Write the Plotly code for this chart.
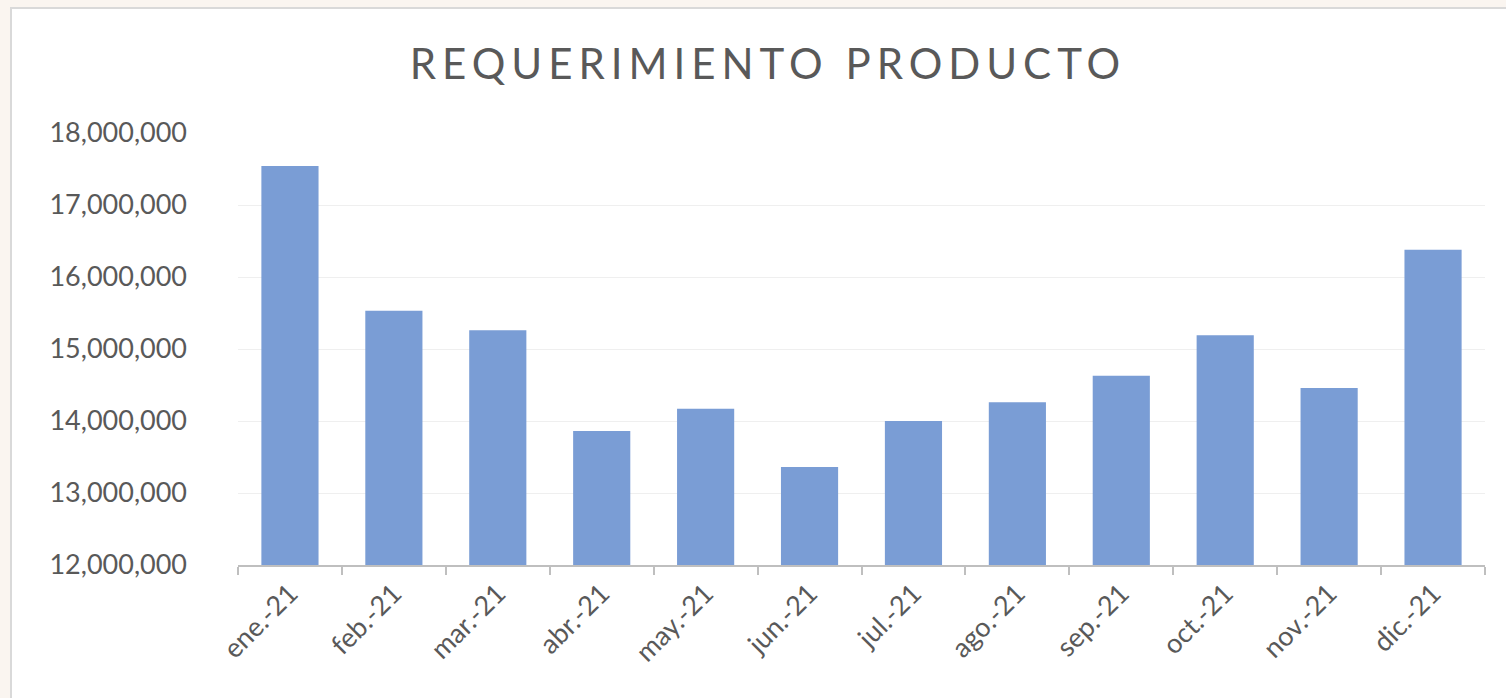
import plotly.graph_objects as go

months = ["ene.-21", "feb.-21", "mar.-21", "abr.-21", "may.-21", "jun.-21",
          "jul.-21", "ago.-21", "sep.-21", "oct.-21", "nov.-21", "dic.-21"]
values = [17540000, 15530000, 15260000, 13860000, 14170000, 13360000,
          14000000, 14260000, 14630000, 15190000, 14460000, 16380000]
y_ticks = [12000000, 13000000, 14000000, 15000000, 16000000, 17000000, 18000000]
title_text = "REQUERIMIENTO PRODUCTO"

W, H = 1506, 698
L, R, T, B = 238, 21, 133, 133
pw, ph = W - L - R, H - T - B

def px_x(p):
    return (p - L) / pw

def px_y(p):
    return (H - B - p) / ph

fig = go.Figure(go.Bar(
    x=months, y=values,
    marker=dict(color="#7a9dd5", line=dict(width=0)),
    width=0.55,
))

fig.add_shape(type="rect", xref="paper", yref="paper",
              x0=px_x(11), x1=px_x(1520), y0=px_y(710), y1=px_y(8),
              fillcolor="white", line=dict(color="#d9d9d9", width=2), layer="below")

fig.update_layout(
    width=W, height=H,
    margin=dict(l=L, r=R, t=T, b=B),
    paper_bgcolor="#faf5f0",
    plot_bgcolor="rgba(0,0,0,0)",
    showlegend=False,
    title=dict(text='<span style="letter-spacing:6px">' + title_text + '</span>',
               x=768 / W, xref="container", xanchor="center",
               y=1 - 64 / H, yref="container", yanchor="middle",
               font=dict(family="Lato", size=42, color="#595959")),
    font=dict(family="Lato", color="#595959"),
    bargap=0.45,
)
fig.update_xaxes(
    type="category", tickangle=-45, tickfont=dict(size=27, color="#595959"),
    showline=True, linecolor="#bfbfbf", linewidth=2,
    ticks="outside", tickson="boundaries", ticklen=8, tickcolor="#bfbfbf", tickwidth=2,
    showgrid=False,
)
fig.update_yaxes(
    range=[12000000, 18000000], tickvals=y_ticks, tickformat=",d",
    tickfont=dict(size=27, color="#595959"),
    showgrid=True, gridcolor="#efefef", gridwidth=1,
    zeroline=False, showline=False, ticklabelstandoff=50,
)

fig.write_html(
    "out.html",
    config={"displayModeBar": False},
    post_script="document.body.style.margin='0';document.body.style.background='#faf5f0';"
                "document.body.style.overflow='hidden';",
)
